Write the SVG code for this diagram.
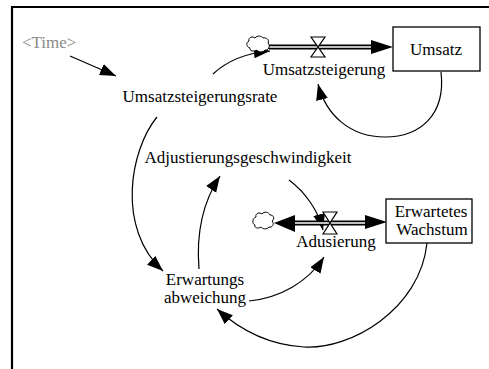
<svg xmlns="http://www.w3.org/2000/svg" width="489" height="369" viewBox="0 0 489 369" font-family="'Liberation Serif', 'DejaVu Serif', 'Times New Roman', serif">
<style>
text{font-family:"Liberation Serif","DejaVu Serif","Times New Roman",serif;font-size:17px;fill:#000}
.gray{fill:#8a8a8a}
.link{fill:none;stroke:#000;stroke-width:1.2}
.pipeo{fill:none;stroke:#000;stroke-width:5}
.pipei{fill:none;stroke:#fff;stroke-width:1.6}
.box{fill:#fff;stroke:#000;stroke-width:1.3}
.valve{fill:#fff;stroke:#000;stroke-width:1.2}
.cloud{fill:#fff;stroke:#000;stroke-width:1}
</style>
<defs>
<marker id="ah" markerUnits="userSpaceOnUse" markerWidth="18" markerHeight="14" refX="16" refY="6" orient="auto">
<path d="M0,0 L16,6 L0,12 Z" fill="#000"/>
</marker>
</defs>
<rect width="489" height="369" fill="#fff"/>
<path d="M12,369 V7 H489" fill="none" stroke="#000" stroke-width="2.2"/>

<g id="connectors">
<path class="link" d="M70,56 L116,76" marker-end="url(#ah)"/>
<path class="link" d="M213,74 C228,60 246,53 270,51" marker-end="url(#ah)"/>
<path class="link" d="M441,72 C446,115 420,137 385,137 C350,137 326,115 318,84" marker-end="url(#ah)"/>
<path class="link" d="M157,117 C130,150 116,228 163,271" marker-end="url(#ah)"/>
<path class="link" d="M199,269 C196,232 204,200 220,176" marker-end="url(#ah)"/>
<path class="link" d="M289,180 C305,192 318,210 323,230" marker-end="url(#ah)"/>
<path class="link" d="M249,301 C280,298 308,282 324,257" marker-end="url(#ah)"/>
<path class="link" d="M427,243 C420,310 350,350 304,347 C270,345 240,330 217,309" marker-end="url(#ah)"/>
</g>

<g id="flow-umsatzsteigerung">
<path class="pipeo" d="M269,47 H372"/>
<path class="pipei" d="M269,47 H372"/>
<path d="M371,40 L393,47 L371,54 Z" fill="#000"/>
<path class="valve" d="M311,37 H325 L311,57 H325 Z"/>
<text x="324" y="75" text-anchor="middle">Umsatzsteigerung</text>
</g>
<g id="cloud-top">
<path class="cloud" d="M249,41 C248,37 253,36 255,38 C257,35 262,36 263,38 C266,37 270,40 268,43 C271,46 268,51 265,50 C263,53 258,52 257,50 C254,52 249,51 250,48 C246,47 246,42 249,41 Z"/>
</g>

<g id="flow-adusierung">
<path class="pipeo" d="M293,223 H366"/>
<path class="pipei" d="M293,223 H366"/>
<path d="M295,215 L274,223 L295,232 Z" fill="#000"/>
<path d="M365,215 L387,222 L365,229 Z" fill="#000"/>
<path class="valve" d="M323,212 H337 L323,234 H337 Z"/>
<text x="336" y="247" text-anchor="middle">Adusierung</text>
</g>
<g id="cloud-bottom">
<path class="cloud" d="M256,217 C255,213 260,212 262,214 C264,211 269,212 270,215 C274,215 275,219 272,221 C275,224 272,228 269,227 C267,230 262,229 261,227 C258,229 254,228 255,225 C252,224 252,218 256,217 Z"/>
</g>

<g id="umsatz">
<rect class="box" x="393" y="27" width="87" height="44"/>
<text x="436" y="55" text-anchor="middle">Umsatz</text>
</g>
<g id="erwartetes-wachstum">
<rect class="box" x="386" y="199" width="86" height="44"/>
<text x="431" y="217" text-anchor="middle">Erwartetes</text>
<text x="432" y="235" text-anchor="middle">Wachstum</text>
</g>
<g id="time">
<text class="gray" x="22" y="48">&lt;Time&gt;</text>
</g>
<g id="umsatzsteigerungsrate">
<text x="200" y="102" text-anchor="middle">Umsatzsteigerungsrate</text>
</g>
<g id="adjustierungsgeschwindigkeit">
<text x="248" y="163" text-anchor="middle">Adjustierungsgeschwindigkeit</text>
</g>
<g id="erwartungsabweichung">
<text x="205" y="285" text-anchor="middle" font-size="16">Erwartungs</text>
<text x="205" y="303" text-anchor="middle" font-size="16">abweichung</text>
</g>
</svg>
